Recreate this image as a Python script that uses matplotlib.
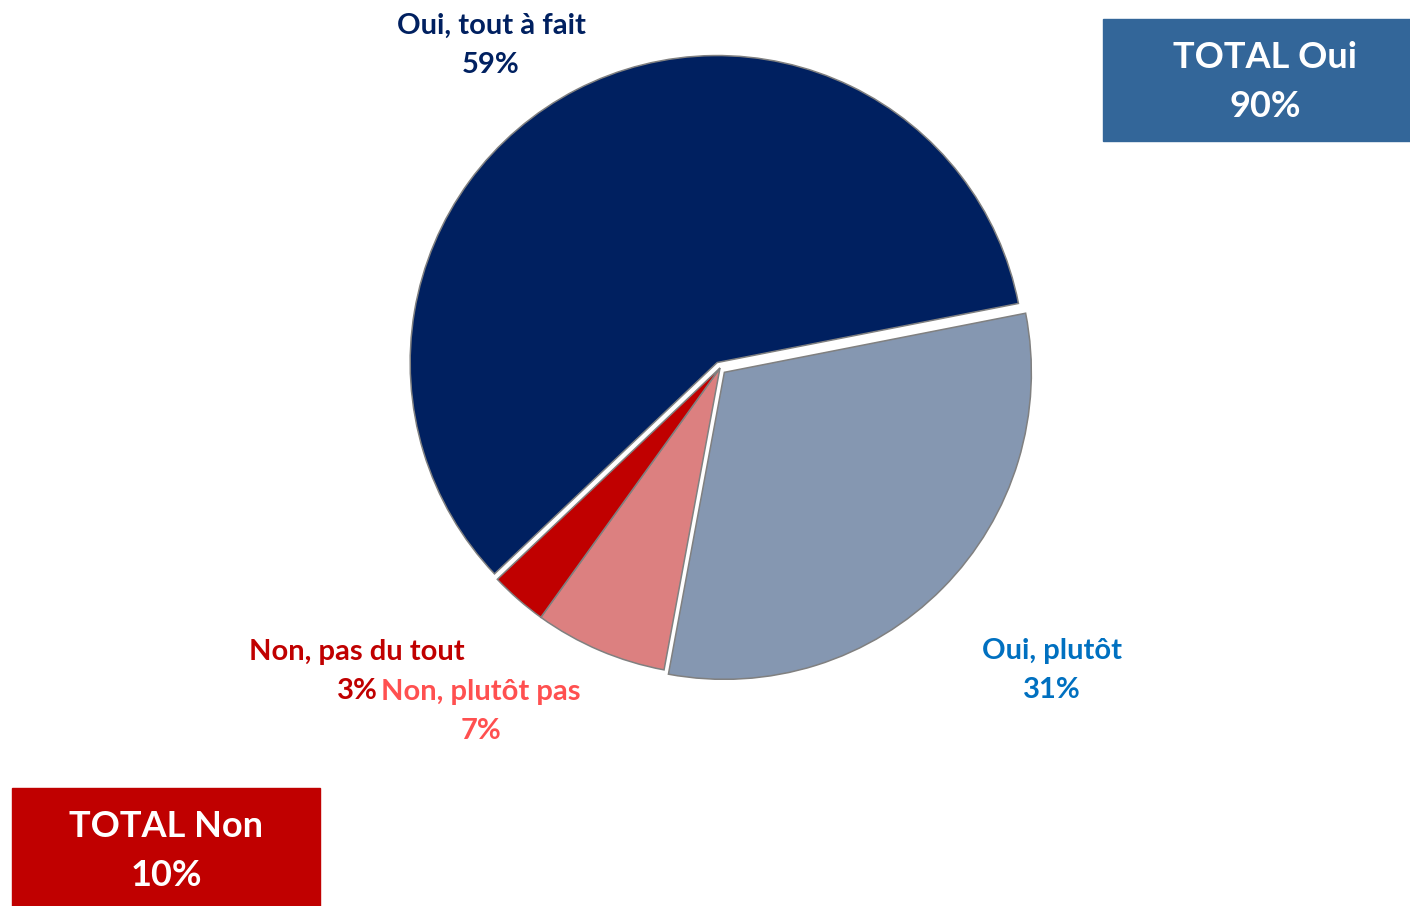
import matplotlib.pyplot as plt
import matplotlib.patches as mpatches

plt.rcParams['font.family'] = ['Lato', 'DejaVu Sans']

# Data
labels = ["Oui, tout à fait", "Oui, plutôt", "Non, plutôt pas", "Non, pas du tout"]
values = [59, 31, 7, 3]
colors = ["#002060", "#8597B1", "#DC8080", "#C00000"]
label_colors = ["#002060", "#0070C0", "#FF5050", "#C00000"]
explode = [0.02, 0.02, 0.0, 0.0]
total_oui = 90
total_non = 10

W, H = 1410, 906
cx, cy, R = 720, 368, 307  # pie centre / radius in pixels


def px(x, y):
    # pixel position -> data coords (pie radius = 1)
    return (x - cx) / R, (cy - y) / R


fig = plt.figure(figsize=(W / 100, H / 100), dpi=100)
ax = fig.add_axes([0, 0, 1, 1])
ax.pie(values, colors=colors, explode=explode, startangle=223.5, counterclock=False,
       radius=1, wedgeprops=dict(edgecolor="#808080", linewidth=1.1))
ax.set_xlim(-cx / R, (W - cx) / R)
ax.set_ylim(-(H - cy) / R, cy / R)
ax.set_aspect("equal")
ax.axis("off")

# Slice labels: name line, then percentage line below
label_pos = [(491, 26), (1052, 651), (481, 692), (357, 652)]
for lab, v, c, (x, y) in zip(labels, values, label_colors, label_pos):
    ax.text(*px(x, y), lab, color=c, fontsize=21, fontweight="bold",
            ha="center", va="center")
    ax.text(*px(x, y + 39), f"{v}%", color=c, fontsize=21, fontweight="bold",
            ha="center", va="center")

# TOTAL boxes
ax.add_patch(mpatches.Rectangle(px(1103, 141), 307 / R, 122 / R, color="#336699",
                                clip_on=False))
ax.text(*px(1265, 82), f"TOTAL Oui\n{total_oui}%", color="white", fontsize=26,
        fontweight="bold", ha="center", va="center", linespacing=1.62)

ax.add_patch(mpatches.Rectangle(px(12, 906), 308 / R, 118 / R, color="#C00000",
                                clip_on=False))
ax.text(*px(166, 851), f"TOTAL Non\n{total_non}%", color="white", fontsize=26,
        fontweight="bold", ha="center", va="center", linespacing=1.62)

fig.savefig("out.png", dpi=100)
